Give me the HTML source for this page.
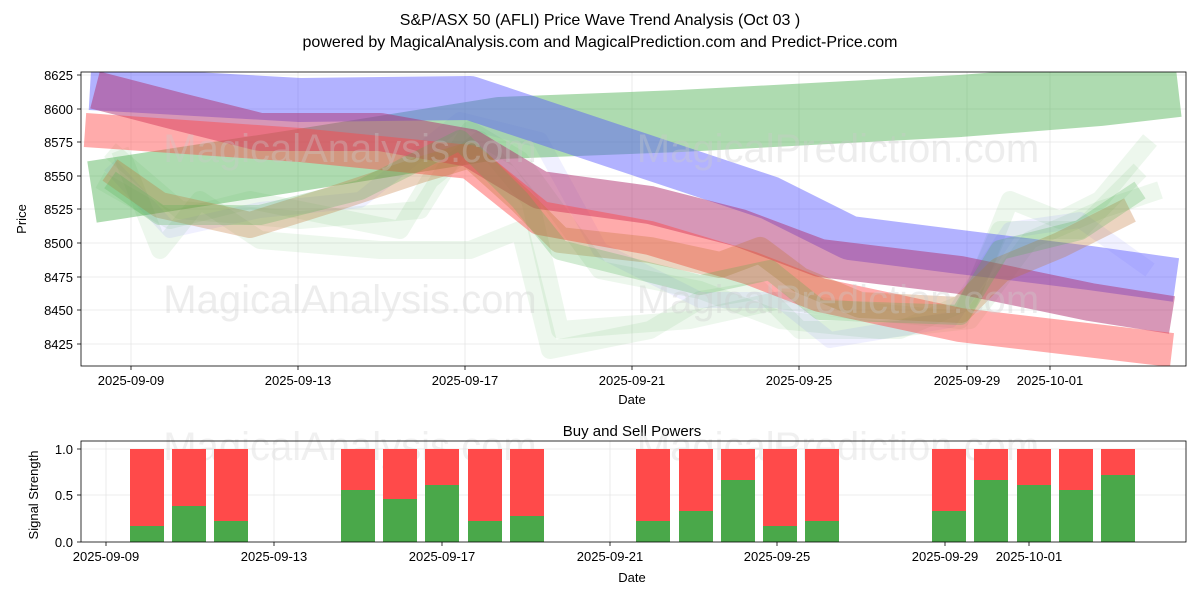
<!DOCTYPE html>
<html><head><meta charset="utf-8"><style>
body{margin:0;background:#fff;}
svg text{font-family:"Liberation Sans","DejaVu Sans",sans-serif;}
</style></head><body>
<svg width="1200" height="600" viewBox="0 0 1200 600" xmlns="http://www.w3.org/2000/svg">
<rect width="1200" height="600" fill="#fff"/>
<text x="600" y="25" text-anchor="middle" font-size="16">S&amp;P/ASX 50 (AFLI) Price Wave Trend Analysis (Oct 03 )</text>
<text x="600" y="47" text-anchor="middle" font-size="16">powered by MagicalAnalysis.com and MagicalPrediction.com and Predict-Price.com</text>

<defs><clipPath id="c1"><rect x="81" y="72" width="1105" height="294"/></clipPath></defs>

<g stroke="#e6e6e6" stroke-width="0.8">
<line x1="131" y1="72" x2="131" y2="366"/><line x1="298" y1="72" x2="298" y2="366"/><line x1="465" y1="72" x2="465" y2="366"/><line x1="632" y1="72" x2="632" y2="366"/><line x1="799" y1="72" x2="799" y2="366"/><line x1="967" y1="72" x2="967" y2="366"/><line x1="1050" y1="72" x2="1050" y2="366"/>
<line x1="81" y1="75" x2="1186" y2="75"/><line x1="81" y1="109" x2="1186" y2="109"/><line x1="81" y1="142" x2="1186" y2="142"/><line x1="81" y1="176" x2="1186" y2="176"/><line x1="81" y1="209" x2="1186" y2="209"/><line x1="81" y1="243" x2="1186" y2="243"/><line x1="81" y1="277" x2="1186" y2="277"/><line x1="81" y1="310" x2="1186" y2="310"/><line x1="81" y1="344" x2="1186" y2="344"/>
</g>

<g clip-path="url(#c1)" fill="none" stroke-linejoin="round" stroke-linecap="butt">
<g stroke="#4caf50" stroke-opacity="0.1" stroke-width="18">
<polyline points="120,150 160,250 200,200 260,240 380,250 470,250 520,230 550,350 650,330 700,300 760,290 800,330 900,330 970,300 1010,200 1060,220 1100,200 1150,140"/>
<polyline points="100,180 170,220 250,200 400,230 430,180 480,140 530,200 560,330 690,320 780,300 850,310 960,320 1000,230 1080,230 1140,170"/>
<polyline points="110,150 180,210 300,220 420,210 470,130 520,160 600,270 700,290 780,320 880,330 970,320 1030,240 1100,210 1160,190"/>
</g>
<g stroke="#6a6aff" stroke-opacity="0.1" stroke-width="16">
<polyline points="110,165 170,230 260,210 360,200 460,120 540,140 600,250 700,300 780,300 830,340 950,320 1010,230 1080,220 1150,270"/>
</g>
<polyline stroke="#4caf50" stroke-opacity="0.45" stroke-width="62" points="92,192 300,160 500,128 680,121 960,106 1100,95 1178,86"/>
<polyline stroke="#5555ff" stroke-opacity="0.45" stroke-width="44" points="90,88 300,100 470,98 560,128 680,168 770,198 850,238 960,252 1090,268 1176,280"/>
<polyline stroke="#b03070" stroke-opacity="0.5" stroke-width="38" points="95,90 180,112 260,132 380,132 470,148 540,190 650,205 740,228 820,258 960,275 1090,302 1172,315"/>
<polyline stroke="#ff4444" stroke-opacity="0.45" stroke-width="34" points="85,130 300,145 470,162 540,218 650,238 750,268 820,295 960,325 1172,350"/>
<polyline stroke="#c07030" stroke-opacity="0.3" stroke-width="26" points="110,170 160,205 250,225 330,200 420,170 470,155 520,200 560,240 650,250 720,265 760,250 800,280 860,305 960,310 1000,270 1060,245 1130,210"/>
<polyline stroke="#4caf50" stroke-opacity="0.25" stroke-width="20" points="110,180 160,215 260,215 360,190 460,140 520,200 560,250 700,285 770,270 820,310 960,315 1000,250 1080,230 1140,190"/>
</g>
<text x="350" y="162" text-anchor="middle" font-size="40" fill="#ccc" fill-opacity="0.35">MagicalAnalysis.com</text>
<text x="838" y="162" text-anchor="middle" font-size="40" fill="#ccc" fill-opacity="0.35">MagicalPrediction.com</text>
<text x="350" y="313" text-anchor="middle" font-size="40" fill="#ccc" fill-opacity="0.35">MagicalAnalysis.com</text>
<text x="838" y="313" text-anchor="middle" font-size="40" fill="#ccc" fill-opacity="0.35">MagicalPrediction.com</text>

<rect x="81" y="72" width="1105" height="294" fill="none" stroke="#000" stroke-width="0.8"/>
<g stroke="#000" stroke-width="0.8">
<line x1="131" y1="366" x2="131" y2="370"/><line x1="298" y1="366" x2="298" y2="370"/><line x1="465" y1="366" x2="465" y2="370"/><line x1="632" y1="366" x2="632" y2="370"/><line x1="799" y1="366" x2="799" y2="370"/><line x1="967" y1="366" x2="967" y2="370"/><line x1="1050" y1="366" x2="1050" y2="370"/>
<line x1="77" y1="75" x2="81" y2="75"/><line x1="77" y1="109" x2="81" y2="109"/><line x1="77" y1="142" x2="81" y2="142"/><line x1="77" y1="176" x2="81" y2="176"/><line x1="77" y1="209" x2="81" y2="209"/><line x1="77" y1="243" x2="81" y2="243"/><line x1="77" y1="277" x2="81" y2="277"/><line x1="77" y1="310" x2="81" y2="310"/><line x1="77" y1="344" x2="81" y2="344"/>
</g>
<g font-size="13" text-anchor="middle">
<text x="131" y="385">2025-09-09</text><text x="298" y="385">2025-09-13</text><text x="465" y="385">2025-09-17</text><text x="632" y="385">2025-09-21</text><text x="799" y="385">2025-09-25</text><text x="967" y="385">2025-09-29</text><text x="1050" y="385">2025-10-01</text>
<text x="632" y="404">Date</text>
</g>
<g font-size="13" text-anchor="end">
<text x="73" y="80">8625</text><text x="73" y="114">8600</text><text x="73" y="147">8575</text><text x="73" y="181">8550</text><text x="73" y="214">8525</text><text x="73" y="248">8500</text><text x="73" y="282">8475</text><text x="73" y="315">8450</text><text x="73" y="349">8425</text>
</g>
<text x="26" y="219" font-size="13" text-anchor="middle" transform="rotate(-90 26 219)">Price</text>

<text x="632" y="436" text-anchor="middle" font-size="15">Buy and Sell Powers</text>
<g stroke="#e6e6e6" stroke-width="0.8">
<line x1="81" y1="449" x2="1186" y2="449"/><line x1="81" y1="495" x2="1186" y2="495"/>
<line x1="106" y1="441" x2="106" y2="542"/><line x1="274" y1="441" x2="274" y2="542"/><line x1="442" y1="441" x2="442" y2="542"/><line x1="610" y1="441" x2="610" y2="542"/><line x1="777" y1="441" x2="777" y2="542"/><line x1="945" y1="441" x2="945" y2="542"/><line x1="1029" y1="441" x2="1029" y2="542"/>
</g>
<text x="350" y="460" text-anchor="middle" font-size="40" fill="#ccc" fill-opacity="0.3">MagicalAnalysis.com</text>
<text x="838" y="460" text-anchor="middle" font-size="40" fill="#ccc" fill-opacity="0.3">MagicalPrediction.com</text>
<g fill="#ff4a4a">
<rect x="130" y="449" width="34" height="93"/><rect x="172" y="449" width="34" height="93"/><rect x="214" y="449" width="34" height="93"/>
<rect x="341" y="449" width="34" height="93"/><rect x="383" y="449" width="34" height="93"/><rect x="425" y="449" width="34" height="93"/><rect x="468" y="449" width="34" height="93"/><rect x="510" y="449" width="34" height="93"/>
<rect x="636" y="449" width="34" height="93"/><rect x="679" y="449" width="34" height="93"/><rect x="721" y="449" width="34" height="93"/><rect x="763" y="449" width="34" height="93"/><rect x="805" y="449" width="34" height="93"/>
<rect x="932" y="449" width="34" height="93"/><rect x="974" y="449" width="34" height="93"/><rect x="1017" y="449" width="34" height="93"/><rect x="1059" y="449" width="34" height="93"/><rect x="1101" y="449" width="34" height="93"/>
</g>
<g fill="#4aa84a">
<rect x="130" y="526" width="34" height="16"/><rect x="172" y="506" width="34" height="36"/><rect x="214" y="521" width="34" height="21"/>
<rect x="341" y="490" width="34" height="52"/><rect x="383" y="499" width="34" height="43"/><rect x="425" y="485" width="34" height="57"/><rect x="468" y="521" width="34" height="21"/><rect x="510" y="516" width="34" height="26"/>
<rect x="636" y="521" width="34" height="21"/><rect x="679" y="511" width="34" height="31"/><rect x="721" y="480" width="34" height="62"/><rect x="763" y="526" width="34" height="16"/><rect x="805" y="521" width="34" height="21"/>
<rect x="932" y="511" width="34" height="31"/><rect x="974" y="480" width="34" height="62"/><rect x="1017" y="485" width="34" height="57"/><rect x="1059" y="490" width="34" height="52"/><rect x="1101" y="475" width="34" height="67"/>
</g>
<rect x="81" y="441" width="1105" height="101" fill="none" stroke="#000" stroke-width="0.8"/>
<g stroke="#000" stroke-width="0.8">
<line x1="106" y1="542" x2="106" y2="546"/><line x1="274" y1="542" x2="274" y2="546"/><line x1="442" y1="542" x2="442" y2="546"/><line x1="610" y1="542" x2="610" y2="546"/><line x1="777" y1="542" x2="777" y2="546"/><line x1="945" y1="542" x2="945" y2="546"/><line x1="1029" y1="542" x2="1029" y2="546"/>
<line x1="77" y1="449" x2="81" y2="449"/><line x1="77" y1="495" x2="81" y2="495"/><line x1="77" y1="542" x2="81" y2="542"/>
</g>
<g font-size="13" text-anchor="middle">
<text x="106" y="561">2025-09-09</text><text x="274" y="561">2025-09-13</text><text x="442" y="561">2025-09-17</text><text x="610" y="561">2025-09-21</text><text x="777" y="561">2025-09-25</text><text x="945" y="561">2025-09-29</text><text x="1029" y="561">2025-10-01</text>
<text x="632" y="582">Date</text>
</g>
<g font-size="13" text-anchor="end">
<text x="73" y="454">1.0</text><text x="73" y="500">0.5</text><text x="73" y="547">0.0</text>
</g>
<text x="38" y="495" font-size="13" text-anchor="middle" transform="rotate(-90 38 495)">Signal Strength</text>
</svg>
</body></html>
